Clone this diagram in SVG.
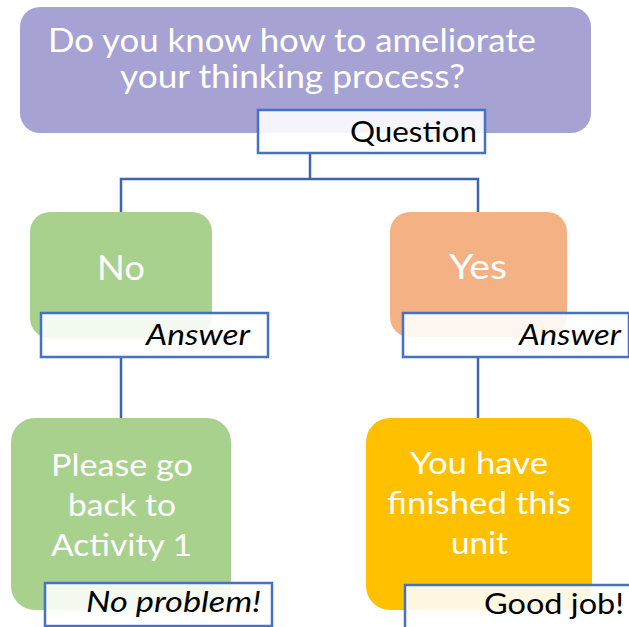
<svg xmlns="http://www.w3.org/2000/svg" width="629" height="627" viewBox="0 0 629 627">
<style>
.t{font-family:Lato,"Liberation Sans",sans-serif;fill:#fff;}
.l{font-family:Lato,"Liberation Sans",sans-serif;fill:#000;}
.lb{fill:#fff;fill-opacity:0.88;stroke:#4472C4;stroke-width:2.5;}
.c{fill:none;stroke:#3E64AD;stroke-width:2.5;}
</style>
<rect width="629" height="627" fill="#fff"/>
<g id="connectors">
<path class="c" d="M310 153 V179 H121 V212 M310 179 H478 V212"/>
<path class="c" d="M121 357 V418"/>
<path class="c" d="M478 357 V418"/>
</g>
<g id="question">
<rect x="20" y="7" width="571" height="126" rx="20" fill="#A6A2D4"/>
<text class="t" x="48" y="52" font-size="32" textLength="488" lengthAdjust="spacingAndGlyphs">Do you know how to ameliorate</text>
<text class="t" x="120" y="88" font-size="32" textLength="345" lengthAdjust="spacingAndGlyphs">your thinking process?</text>
<rect class="lb" x="258" y="110" width="227" height="43"/>
<text class="l" x="350" y="142" font-size="28" textLength="127" lengthAdjust="spacingAndGlyphs">Question</text>
</g>
<g id="no">
<rect x="30" y="212" width="182" height="126" rx="20" fill="#A9D18E"/>
<text class="t" x="97" y="280" font-size="34" textLength="48" lengthAdjust="spacingAndGlyphs">No</text>
<rect class="lb" x="41" y="313" width="227" height="44"/>
<text class="l" x="146" y="345" font-size="28" font-style="italic" textLength="104" lengthAdjust="spacingAndGlyphs">Answer</text>
</g>
<g id="yes">
<rect x="390" y="212" width="177" height="125" rx="20" fill="#F4B183"/>
<text class="t" x="449" y="279" font-size="34" textLength="58" lengthAdjust="spacingAndGlyphs">Yes</text>
<rect class="lb" x="403" y="313" width="226" height="44"/>
<text class="l" x="519" y="345" font-size="28" font-style="italic" textLength="102" lengthAdjust="spacingAndGlyphs">Answer</text>
</g>
<g id="goback">
<rect x="11" y="418" width="220" height="192" rx="24" fill="#A9D18E"/>
<text class="t" x="51" y="476" font-size="30" textLength="142" lengthAdjust="spacingAndGlyphs">Please go</text>
<text class="t" x="68" y="516" font-size="30" textLength="108" lengthAdjust="spacingAndGlyphs">back to</text>
<text class="t" x="51" y="556" font-size="30" textLength="141" lengthAdjust="spacingAndGlyphs">Activity 1</text>
<rect class="lb" x="45" y="583" width="227" height="43"/>
<text class="l" x="86" y="612" font-size="28" font-style="italic" textLength="175" lengthAdjust="spacingAndGlyphs">No problem!</text>
</g>
<g id="finished">
<rect x="366" y="418" width="226" height="192" rx="24" fill="#FFC000"/>
<text class="t" x="410" y="474" font-size="30" textLength="138" lengthAdjust="spacingAndGlyphs">You have</text>
<text class="t" x="387" y="514" font-size="30" textLength="184" lengthAdjust="spacingAndGlyphs">finished this</text>
<text class="t" x="451" y="554" font-size="30" textLength="57" lengthAdjust="spacingAndGlyphs">unit</text>
<rect class="lb" x="405" y="585" width="240" height="60"/>
<text class="l" x="484" y="614" font-size="28" textLength="140" lengthAdjust="spacingAndGlyphs">Good job!</text>
</g>
</svg>
